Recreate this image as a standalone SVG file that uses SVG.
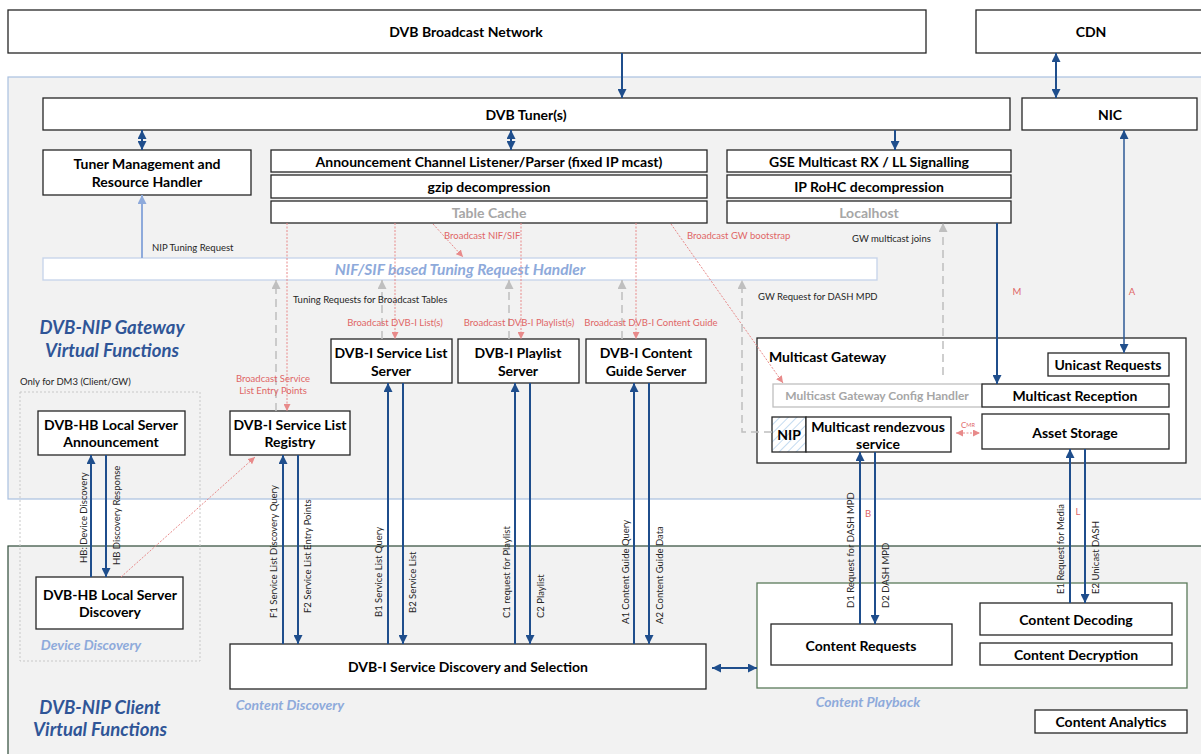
<svg xmlns="http://www.w3.org/2000/svg" width="1201" height="754" viewBox="0 0 1201 754">
<defs>
<style>
.bx{fill:#fff;stroke:#262626;stroke-width:1.3}
.bxg{fill:#fff;stroke:#bfbfbf;stroke-width:1.3}
.t{font-family:Lato,"Liberation Sans",sans-serif;font-weight:700;font-size:14px;fill:#000;text-anchor:middle;dominant-baseline:central}
.tg{font-family:Lato,"Liberation Sans",sans-serif;font-weight:700;font-size:14px;fill:#a6a6a6;text-anchor:middle;dominant-baseline:central}
.s{font-family:Lato,"Liberation Sans",sans-serif;font-size:9.5px;fill:#262626;dominant-baseline:central}
.r{font-family:Lato,"Liberation Sans",sans-serif;font-size:9.5px;fill:#e06666;dominant-baseline:central}
.h{font-family:Lato,"Liberation Sans",sans-serif;font-weight:700;font-style:italic;font-size:18.5px;fill:#2f5597;text-anchor:middle;dominant-baseline:central}
.lb{font-family:Lato,"Liberation Sans",sans-serif;font-weight:700;font-style:italic;font-size:14px;fill:#8eaadb;text-anchor:middle;dominant-baseline:central}
.bl{stroke:#1f4e8c;stroke-width:2;fill:none}
.bl1{stroke:#2e5a96;stroke-width:1.5;fill:none}
.lbl{stroke:#8eaadb;stroke-width:2;fill:none}
.rd{stroke:#e88a8a;stroke-width:1;stroke-dasharray:2 1.5;fill:none}
.gd{stroke:#bfbfbf;stroke-width:1.5;stroke-dasharray:8 5;fill:none}
</style>
<marker id="ab" viewBox="0 0 10 10" refX="10" refY="5" markerUnits="userSpaceOnUse" markerWidth="9" markerHeight="9" orient="auto-start-reverse"><path d="M0,0 L10,5 L0,10 z" fill="#1f4e8c"/></marker>
<marker id="alb" viewBox="0 0 10 10" refX="10" refY="5" markerUnits="userSpaceOnUse" markerWidth="9" markerHeight="9" orient="auto-start-reverse"><path d="M0,0 L10,5 L0,10 z" fill="#8eaadb"/></marker>
<marker id="ar" viewBox="0 0 10 10" refX="10" refY="5" markerUnits="userSpaceOnUse" markerWidth="7" markerHeight="7" orient="auto-start-reverse"><path d="M0,0 L10,5 L0,10 z" fill="#e88a8a"/></marker>
<marker id="ag" viewBox="0 0 10 10" refX="10" refY="5" markerUnits="userSpaceOnUse" markerWidth="9" markerHeight="9" orient="auto-start-reverse"><path d="M0,0 L10,5 L0,10 z" fill="#bfbfbf"/></marker>
<pattern id="hatch" patternUnits="userSpaceOnUse" width="6" height="6" patternTransform="rotate(45)"><rect width="6" height="6" fill="#fff"/><line x1="0" y1="0" x2="0" y2="6" stroke="#9dc3e6" stroke-width="1.2"/></pattern>
</defs>
<rect width="1201" height="754" fill="#fff"/>

<g id="regions">
<rect x="8" y="77" width="1194" height="422" fill="#f2f2f2" stroke="#a9c0e0" stroke-width="1.2"/>
<rect x="8" y="546" width="1194" height="210" fill="#f2f2f2" stroke="#2e4a38" stroke-width="1.2"/>
<rect x="20" y="392" width="180" height="269" fill="none" stroke="#c8c8c8" stroke-width="1" stroke-dasharray="2 2"/>
<rect x="757" y="583" width="430" height="105" fill="#fff" stroke="#5a7a5a" stroke-width="1.3"/>
<text class="h" x="112" y="327">DVB-NIP Gateway</text>
<text class="h" x="112" y="350">Virtual Functions</text>
<text class="h" x="100" y="707">DVB-NIP Client</text>
<text class="h" x="100" y="729">Virtual Functions</text>
<text class="s" x="20" y="381">Only for DM3 (Client/GW)</text>
<text class="lb" x="91" y="644">Device Discovery</text>
<text class="lb" x="290" y="704">Content Discovery</text>
<text class="lb" x="868" y="701">Content Playback</text>
</g>

<g id="n-broadcast"><rect class="bx" x="8" y="10" width="918" height="43"/><text class="t" x="466" y="31">DVB Broadcast Network</text></g>
<g id="n-cdn"><rect class="bx" x="976" y="10" width="226" height="43"/><text class="t" x="1091" y="31">CDN</text></g>
<g id="n-tuner"><rect class="bx" x="43" y="98" width="967" height="32"/><text class="t" x="526" y="114">DVB Tuner(s)</text></g>
<g id="n-nic"><rect class="bx" x="1022" y="98" width="175" height="32"/><text class="t" x="1110" y="114">NIC</text></g>
<g id="n-tunermgmt"><rect class="bx" x="43" y="150" width="208" height="45"/><text class="t" x="147" y="163">Tuner Management and</text><text class="t" x="147" y="181">Resource Handler</text></g>
<g id="n-announce"><rect class="bx" x="271" y="150" width="436" height="22"/><text class="t" x="489" y="161">Announcement Channel Listener/Parser (fixed IP mcast)</text></g>
<g id="n-gzip"><rect class="bx" x="271" y="175" width="436" height="23"/><text class="t" x="489" y="186.5">gzip decompression</text></g>
<g id="n-tablecache"><rect class="bx" x="271" y="201" width="436" height="22"/><text class="tg" x="489" y="212">Table Cache</text></g>
<g id="n-gse"><rect class="bx" x="727" y="150" width="284" height="22"/><text class="t" x="869" y="161">GSE Multicast RX / LL Signalling</text></g>
<g id="n-rohc"><rect class="bx" x="727" y="175" width="284" height="23"/><text class="t" x="869" y="186.5">IP RoHC decompression</text></g>
<g id="n-localhost"><rect class="bx" x="727" y="201" width="284" height="22"/><text class="tg" x="869" y="212">Localhost</text></g>
<g id="n-handler"><rect x="43" y="258" width="834" height="22" fill="#fff" stroke="#c5d3ea" stroke-width="1.3"/><text class="lb" x="460" y="269" style="font-size:15.5px">NIF/SIF based Tuning Request Handler</text></g>

<g id="n-hbannounce"><rect class="bx" x="38" y="411" width="147" height="44"/><text class="t" x="111" y="424">DVB-HB Local Server</text><text class="t" x="111" y="441">Announcement</text></g>
<g id="n-registry"><rect class="bx" x="230" y="411" width="120" height="44"/><text class="t" x="290" y="424">DVB-I Service List</text><text class="t" x="290" y="441">Registry</text></g>
<g id="n-slserver"><rect class="bx" x="331" y="339" width="121" height="44"/><text class="t" x="391" y="352">DVB-I Service List</text><text class="t" x="391" y="370">Server</text></g>
<g id="n-playlist"><rect class="bx" x="458" y="339" width="121" height="44"/><text class="t" x="518" y="352">DVB-I Playlist</text><text class="t" x="518" y="370">Server</text></g>
<g id="n-cgserver"><rect class="bx" x="586" y="339" width="120" height="44"/><text class="t" x="646" y="352">DVB-I Content</text><text class="t" x="646" y="370">Guide Server</text></g>

<g id="n-mcgateway"><rect class="bx" x="757" y="338" width="429" height="125"/><text class="t" x="769" y="356" style="text-anchor:start">Multicast Gateway</text></g>
<g id="n-unicast"><rect class="bx" x="1048" y="353" width="121" height="23"/><text class="t" x="1108" y="364.5">Unicast Requests</text></g>
<g id="n-confighandler"><rect class="bxg" x="773" y="384" width="209" height="23"/><text class="tg" x="877" y="395.5" style="font-size:12px">Multicast Gateway Config Handler</text></g>
<g id="n-mcreception"><rect class="bx" x="982" y="384" width="187" height="23"/><text class="t" x="1075" y="395.5">Multicast Reception</text></g>
<g id="n-nip"><rect x="772" y="417" width="34" height="35" fill="url(#hatch)" stroke="#262626" stroke-width="1.3"/><text class="t" x="789" y="434.5">NIP</text></g>
<g id="n-rendezvous"><rect class="bx" x="806" y="417" width="145" height="35"/><text class="t" x="878" y="426">Multicast rendezvous</text><text class="t" x="878" y="443">service</text></g>
<g id="n-asset"><rect class="bx" x="982" y="414" width="187" height="35"/><text class="t" x="1075" y="432">Asset Storage</text></g>

<g id="n-hbdiscovery"><rect class="bx" x="36" y="577" width="147" height="52"/><text class="t" x="110" y="594">DVB-HB Local Server</text><text class="t" x="110" y="611">Discovery</text></g>
<g id="n-sds"><rect class="bx" x="230" y="644" width="476" height="45"/><text class="t" x="468" y="666.5">DVB-I Service Discovery and Selection</text></g>
<g id="n-contentreq"><rect class="bx" x="771" y="624" width="181" height="41"/><text class="t" x="861" y="645">Content Requests</text></g>
<g id="n-decoding"><rect class="bx" x="980" y="603" width="192" height="32"/><text class="t" x="1076" y="619">Content Decoding</text></g>
<g id="n-decryption"><rect class="bx" x="980" y="643" width="192" height="22"/><text class="t" x="1076" y="654">Content Decryption</text></g>
<g id="n-analytics"><rect class="bx" x="1035" y="710" width="152" height="23"/><text class="t" x="1111" y="721.5">Content Analytics</text></g>

<g id="connectors">
<line class="bl" x1="622" y1="53" x2="622" y2="98" marker-end="url(#ab)"/>
<line class="bl" x1="1056" y1="53" x2="1056" y2="98" marker-start="url(#ab)" marker-end="url(#ab)"/>
<line class="bl" x1="142" y1="130" x2="142" y2="150" marker-start="url(#ab)" marker-end="url(#ab)"/>
<line class="bl" x1="511" y1="130" x2="511" y2="150" marker-start="url(#ab)" marker-end="url(#ab)"/>
<line class="bl" x1="895" y1="130" x2="895" y2="150" marker-end="url(#ab)"/>
<line class="bl1" x1="1124" y1="130" x2="1124" y2="353" marker-start="url(#ab)" marker-end="url(#ab)"/>
<line class="bl" x1="997" y1="223" x2="997" y2="384" marker-end="url(#ab)"/>
<line class="lbl" x1="142" y1="258" x2="142" y2="195" marker-end="url(#alb)"/>
<line class="bl" x1="91" y1="577" x2="91" y2="455" marker-end="url(#ab)"/>
<line class="bl" x1="106" y1="455" x2="106" y2="577" marker-end="url(#ab)"/>
<line class="bl" x1="283" y1="644" x2="283" y2="455" marker-end="url(#ab)"/>
<line class="bl" x1="298" y1="455" x2="298" y2="644" marker-end="url(#ab)"/>
<line class="bl" x1="388" y1="644" x2="388" y2="383" marker-end="url(#ab)"/>
<line class="bl" x1="403" y1="383" x2="403" y2="644" marker-end="url(#ab)"/>
<line class="bl" x1="515" y1="644" x2="515" y2="383" marker-end="url(#ab)"/>
<line class="bl" x1="530" y1="383" x2="530" y2="644" marker-end="url(#ab)"/>
<line class="bl" x1="634" y1="644" x2="634" y2="383" marker-end="url(#ab)"/>
<line class="bl" x1="649" y1="383" x2="649" y2="644" marker-end="url(#ab)"/>
<line class="bl" x1="860" y1="624" x2="860" y2="452" marker-end="url(#ab)"/>
<line class="bl" x1="875" y1="452" x2="875" y2="624" marker-end="url(#ab)"/>
<line class="bl" x1="1070" y1="603" x2="1070" y2="449" marker-end="url(#ab)"/>
<line class="bl" x1="1085" y1="449" x2="1085" y2="603" marker-end="url(#ab)"/>
<line class="bl" x1="712" y1="668" x2="757" y2="668" marker-start="url(#ab)" marker-end="url(#ab)"/>
<line class="rd" x1="287" y1="223" x2="287" y2="411" marker-end="url(#ar)"/>
<line class="rd" x1="395" y1="223" x2="395" y2="339" marker-end="url(#ar)"/>
<line class="rd" x1="521" y1="223" x2="521" y2="339" marker-end="url(#ar)"/>
<line class="rd" x1="636" y1="223" x2="636" y2="339" marker-end="url(#ar)"/>
<line class="rd" x1="433" y1="224" x2="463" y2="257" marker-end="url(#ar)"/>
<line class="rd" x1="671" y1="224" x2="783" y2="383" marker-end="url(#ar)"/>
<line class="rd" x1="121" y1="577" x2="255" y2="457" marker-end="url(#ar)"/>
<line class="rd" x1="956" y1="433" x2="980" y2="433" marker-start="url(#ar)" marker-end="url(#ar)"/>
<line class="gd" x1="276" y1="411" x2="276" y2="280" marker-end="url(#ag)"/>
<line class="gd" x1="382" y1="339" x2="382" y2="280" marker-end="url(#ag)"/>
<line class="gd" x1="509" y1="339" x2="509" y2="280" marker-end="url(#ag)"/>
<line class="gd" x1="622" y1="339" x2="622" y2="280" marker-end="url(#ag)"/>
<polyline class="gd" points="772,432 742,432 742,280" marker-end="url(#ag)"/>
<line class="gd" x1="943" y1="375" x2="943" y2="223" marker-end="url(#ag)"/>
<text class="s" x="152" y="247">NIP Tuning Request</text>
<text class="s" x="293" y="299">Tuning Requests for Broadcast Tables</text>
<text class="s" x="758" y="296">GW Request for DASH MPD</text>
<text class="s" x="852" y="238">GW multicast joins</text>
<text class="r" x="444" y="235">Broadcast NIF/SIF</text>
<text class="r" x="687" y="235">Broadcast GW bootstrap</text>
<text class="r" x="395" y="322" text-anchor="middle">Broadcast DVB-I List(s)</text>
<text class="r" x="519" y="322" text-anchor="middle">Broadcast DVB-I Playlist(s)</text>
<text class="r" x="651" y="322" text-anchor="middle">Broadcast DVB-I Content Guide</text>
<text class="r" x="273" y="378" text-anchor="middle">Broadcast Service</text>
<text class="r" x="273" y="390" text-anchor="middle">List Entry Points</text>
<text class="r" x="1017" y="291" text-anchor="middle">M</text>
<text class="r" x="1132" y="291" text-anchor="middle">A</text>
<text class="r" x="868" y="513" text-anchor="middle">B</text>
<text class="r" x="1078" y="511" text-anchor="middle">L</text>
<text class="r" x="961" y="425" style="font-size:8px">C<tspan style="font-size:5.5px">MR</tspan></text>
<text class="s" transform="translate(83,563) rotate(-90)">HB: Device Discovery</text>
<text class="s" transform="translate(116,565) rotate(-90)">HB Discovery Response</text>
<text class="s" transform="translate(273,618) rotate(-90)">F1 Service List Discovery Query</text>
<text class="s" transform="translate(307,613) rotate(-90)">F2 Service List Entry Points</text>
<text class="s" transform="translate(378,617) rotate(-90)">B1 Service List Query</text>
<text class="s" transform="translate(412,613) rotate(-90)">B2 Service List</text>
<text class="s" transform="translate(506,618) rotate(-90)">C1 request for Playlist</text>
<text class="s" transform="translate(540,618) rotate(-90)">C2 Playlist</text>
<text class="s" transform="translate(625,624) rotate(-90)">A1 Content Guide Query</text>
<text class="s" transform="translate(659,624) rotate(-90)">A2 Content Guide Data</text>
<text class="s" transform="translate(850,608) rotate(-90)">D1 Request for DASH MPD</text>
<text class="s" transform="translate(885,608) rotate(-90)">D2 DASH MPD</text>
<text class="s" transform="translate(1060,594) rotate(-90)">E1 Request for Media</text>
<text class="s" transform="translate(1095,594) rotate(-90)">E2 Unicast DASH</text>
</g>
</svg>
